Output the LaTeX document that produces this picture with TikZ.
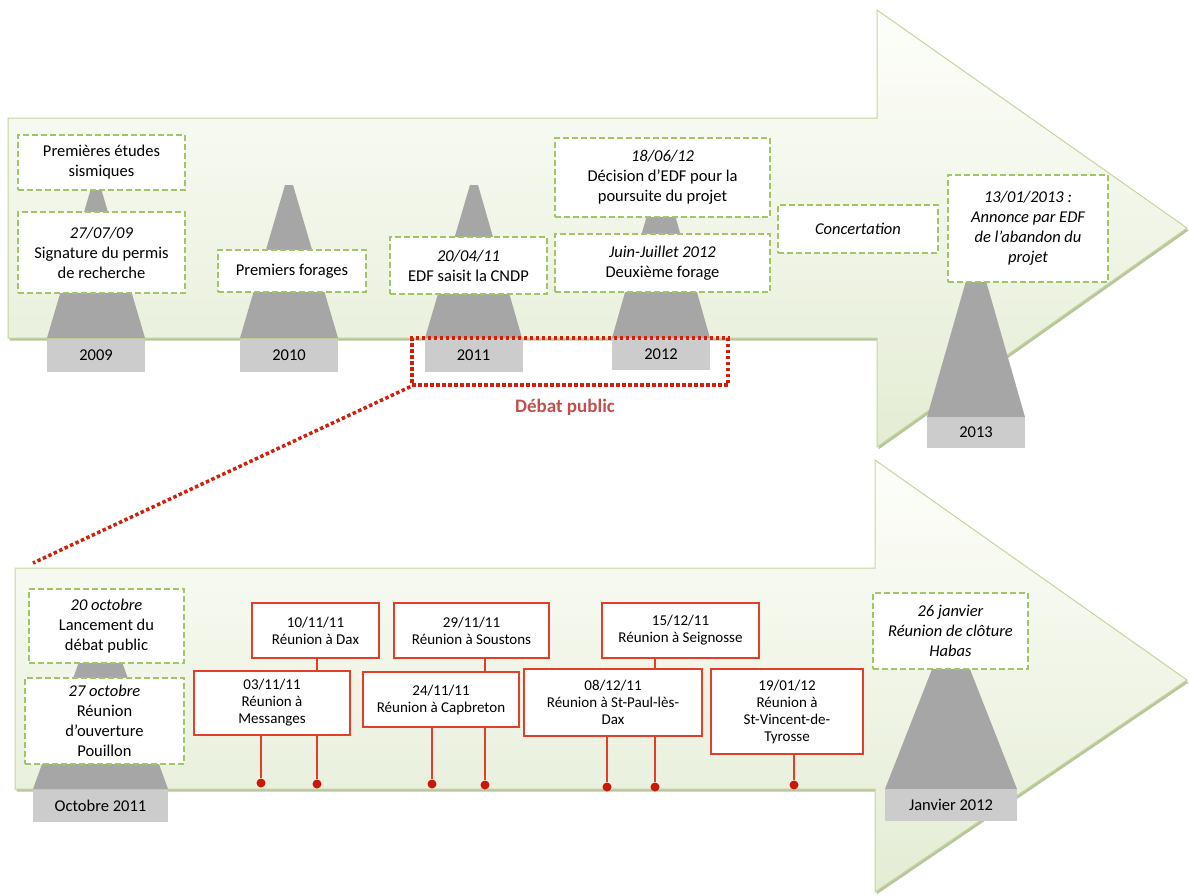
\documentclass[tikz,border=0pt]{standalone}
\usepackage{fontspec}
\setmainfont{Carlito}
\usetikzlibrary{positioning}
\definecolor{arrowtop}{RGB}{253,254,250}
\definecolor{arrowbot}{RGB}{228,236,212}
\definecolor{arrowline}{RGB}{195,214,155}
\definecolor{arrowshadow}{RGB}{185,197,158}
\definecolor{eventline}{RGB}{160,198,105}
\definecolor{meetline}{RGB}{226,62,42}
\definecolor{meetdot}{RGB}{200,25,10}
\definecolor{debatred}{RGB}{208,32,12}
\definecolor{debattext}{RGB}{192,80,77}
\definecolor{pyramid}{RGB}{166,166,166}
\definecolor{yearfill}{RGB}{204,204,204}

\begin{document}
\begin{tikzpicture}[x=1pt,y=-1pt,
  eventbox/.style={draw=eventline,fill=white,line width=1.3pt,dash pattern=on 6pt off 3pt,align=center,inner sep=1pt,font=\fontsize{16.5}{20}\selectfont},
  eventit/.style={eventbox,font=\fontsize{16.5}{20}\selectfont\itshape},
  meetbox/.style={draw=meetline,fill=white,line width=1.2pt,align=center,inner sep=1pt,font=\fontsize{15}{17}\selectfont},
  yearbox/.style={fill=yearfill,minimum width=98pt,minimum height=33pt,inner sep=0pt,font=\fontsize{16.5}{18}\selectfont},
  link/.style={meetline,line width=1.2pt},
  dot/.style={circle,fill=meetdot,inner sep=0pt,minimum size=9pt},
  debatbox/.style={draw=debatred,line width=3.5pt,dash pattern=on 3.5pt off 2.5pt},
  zoomline/.style={debatred,line width=3.5pt,dash pattern=on 3.5pt off 2.5pt}]
  \useasboundingbox (0,0) rectangle (1189,895);

  \fill[arrowshadow,shift={(1.5,2.5)}] (8,118) -- (877,118) -- (877,10) -- (1187,228) -- (877,447) -- (877,338) -- (8,338) -- cycle;
  \shade[top color=arrowtop,bottom color=arrowbot,draw=arrowline,line width=1pt] (8,118) -- (877,118) -- (877,10) -- (1187,228) -- (877,447) -- (877,338) -- (8,338) -- cycle;
  \fill[arrowshadow,shift={(1.5,2.5)}] (15,568) -- (875,568) -- (875,460) -- (1187,680) -- (875,892) -- (875,789) -- (15,789) -- cycle;
  \shade[top color=arrowtop,bottom color=arrowbot,draw=arrowline,line width=1pt] (15,568) -- (875,568) -- (875,460) -- (1187,680) -- (875,892) -- (875,789) -- (15,789) -- cycle;

  \fill[pyramid] (92,185) -- (100,185) -- (145,338) -- (47,338) -- cycle;
  \fill[pyramid] (285,185) -- (293,185) -- (338,338) -- (240,338) -- cycle;
  \fill[pyramid] (470,185) -- (478,185) -- (522,338) -- (425,338) -- cycle;
  \fill[pyramid] (657,180) -- (665,180) -- (710,338) -- (612,338) -- cycle;
  \fill[pyramid] (972,260) -- (980,260) -- (1025,417) -- (927,417) -- cycle;
  \fill[pyramid] (96,615) -- (105,615) -- (168,789) -- (33,789) -- cycle;
  \fill[pyramid] (947,631) -- (955,631) -- (1017,789) -- (885,789) -- cycle;

  \node[yearbox] (y2009) at (96,355) {2009};
  \node[yearbox] (y2010) at (289,355) {2010};
  \node[yearbox] (y2011) at (473.5,355) {2011};
  \node[yearbox,minimum height=32pt] (y2012) at (661,354) {2012};
  \node[yearbox,minimum height=31pt] (y2013) at (976,432.5) {2013};
  \node[yearbox,minimum width=135pt,minimum height=32pt] (oct) at (100.5,806) {Octobre 2011};
  \node[yearbox,minimum width=132pt,minimum height=32pt] (jan) at (951,805) {Janvier 2012};

  \node[eventbox,minimum width=167pt,minimum height=55pt] (sismique) at (101.5,162.5) {Premières études\\sismiques};
  \node[eventbox,minimum width=167pt,minimum height=81pt] (permis) at (101.5,252.5) {\textit{27/07/09}\\Signature du permis\\de recherche};
  \node[eventbox,minimum width=148pt,minimum height=42pt] (forages) at (292,271) {Premiers forages};
  \node[eventbox,minimum width=157pt,minimum height=57pt] (cndp) at (468.5,265.5) {\textit{20/04/11}\\EDF saisit la CNDP};
  \node[eventbox,minimum width=215pt,minimum height=79pt] (decision) at (662.5,177.5) {\textit{18/06/12}\\Décision d’EDF pour la\\poursuite du projet};
  \node[eventbox,minimum width=215pt,minimum height=58pt] (forage2) at (662.5,263) {\textit{Juin-Juillet 2012}\\Deuxième forage};
  \node[eventit,minimum width=160pt,minimum height=48pt] (concertation) at (858,229) {Concertation};
  \node[eventit,minimum width=160pt,minimum height=107pt] (abandon) at (1028,228.5) {13/01/2013 :\\Annonce par EDF\\de l’abandon du\\projet};

  \node[debatbox,minimum width=316pt,minimum height=47pt] (debat) at (570,361.5) {};
  \node[font=\fontsize{19}{22}\selectfont\bfseries,text=debattext] (debatlabel) at (565,407) {Débat public};
  \coordinate (zoomend) at (33,563);
  \draw[zoomline] (debat.south west) -- (zoomend);

  \node[eventbox,minimum width=155pt,minimum height=74pt] (lancement) at (106.5,626) {\textit{20 octobre}\\Lancement du\\débat public};
  \node[eventbox,minimum width=159pt,minimum height=86pt] (ouverture) at (104.5,721) {\textit{27 octobre}\\Réunion\\d’ouverture\\Pouillon};
  \node[eventit,minimum width=155pt,minimum height=76pt] (cloture) at (950.5,631) {26 janvier\\Réunion de clôture\\Habas};

  \node[dot] (dmessanges) at (261,783) {};
  \node[dot] (ddax) at (317,784) {};
  \node[dot] (dcapbreton) at (432,784) {};
  \node[dot] (dsoustons) at (485,785) {};
  \node[dot] (dstpaul) at (607,787) {};
  \node[dot] (dseignosse) at (655,787) {};
  \node[dot] (dstvincent) at (794,785) {};

  \node[meetbox,minimum width=127pt,minimum height=55pt] (dax) at (315.5,630.5) {10/11/11\\Réunion à Dax};
  \node[meetbox,minimum width=155pt,minimum height=55pt] (soustons) at (471.5,630.5) {29/11/11\\Réunion à Soustons};
  \node[meetbox,minimum width=157pt,minimum height=55pt] (seignosse) at (680.5,630.5) {15/12/11\\Réunion à Seignosse};
  \draw[link] (ddax |- dax.south) -- (ddax);
  \draw[link] (dsoustons |- soustons.south) -- (dsoustons);
  \draw[link] (dseignosse |- seignosse.south) -- (dseignosse);
  \node[meetbox,minimum width=156pt,minimum height=64pt] (messanges) at (272,703) {03/11/11\\Réunion à\\Messanges};
  \node[meetbox,minimum width=156pt,minimum height=55pt] (capbreton) at (441,699.5) {24/11/11\\Réunion à Capbreton};
  \node[meetbox,minimum width=178pt,minimum height=67pt] (stpaul) at (613,702.5) {08/12/11\\Réunion à St-Paul-lès-\\Dax};
  \node[meetbox,minimum width=152pt,minimum height=85pt] (stvincent) at (787,711.5) {19/01/12\\Réunion à\\St-Vincent-de-\\Tyrosse};
  \draw[link] (dmessanges |- messanges.south) -- (dmessanges);
  \draw[link] (dcapbreton |- capbreton.south) -- (dcapbreton);
  \draw[link] (dstpaul |- stpaul.south) -- (dstpaul);
  \draw[link] (dstvincent |- stvincent.south) -- (dstvincent);
\end{tikzpicture}
\end{document}
